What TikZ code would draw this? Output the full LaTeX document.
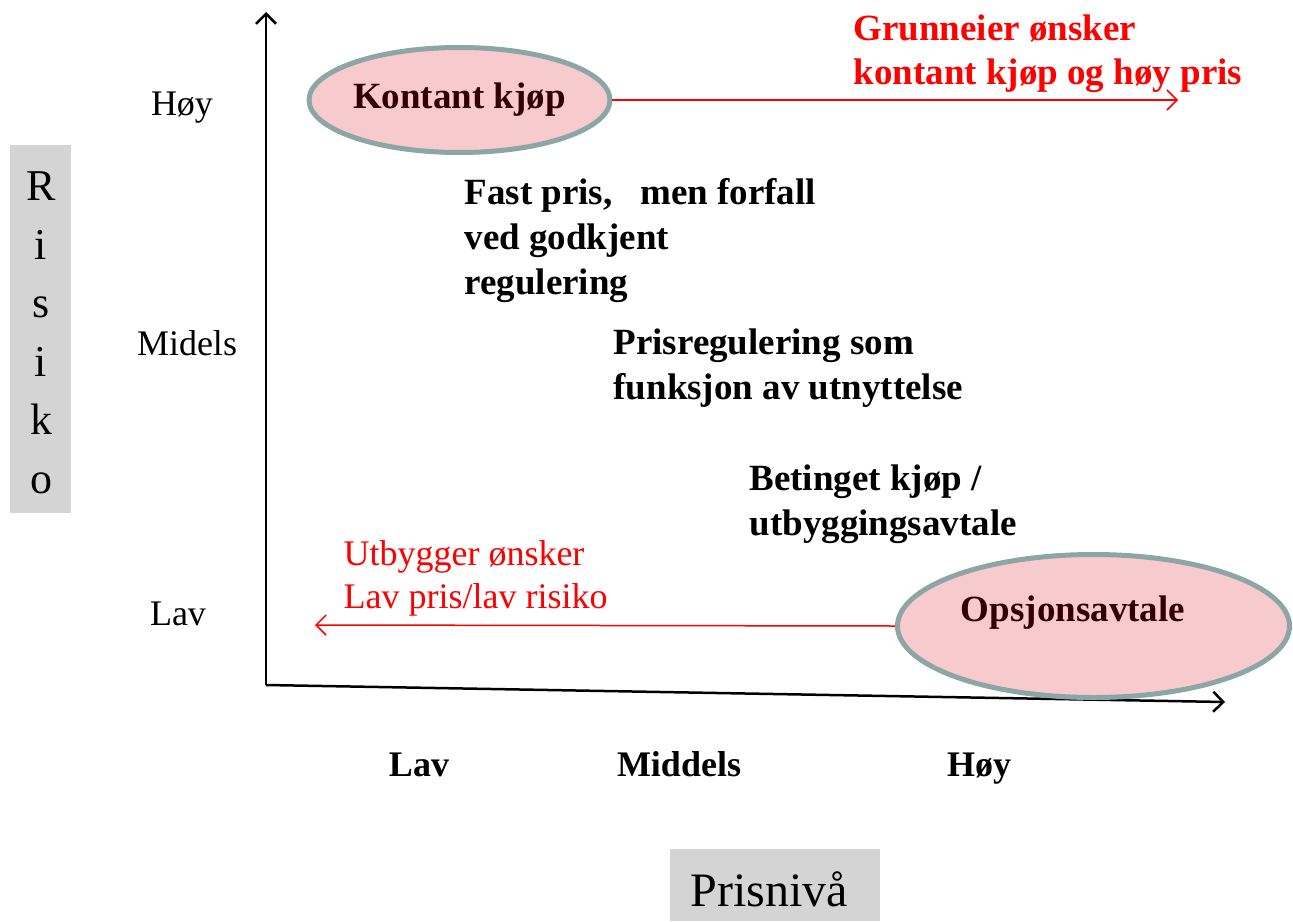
\documentclass[tikz,border=0pt]{standalone}
\usepackage{fontspec}
\setmainfont{Liberation Serif}[BoldFont={Liberation Serif Bold},ItalicFont={Liberation Serif Italic}]
\usetikzlibrary{shapes.geometric,arrows.meta}
\definecolor{ellfill}{RGB}{247,202,206}
\definecolor{ellline}{RGB}{140,165,165}
\definecolor{elltext}{RGB}{50,0,0}
\definecolor{boxgray}{RGB}{212,212,212}
\tikzset{
  axis/.style={line width=2.5pt,-{Straight Barb[length=10pt,width=20pt,line width=2.5pt]}},
  redarrow/.style={red,line width=1.5pt,-{Straight Barb[length=10pt,width=20pt,line width=1.5pt]}},
  bubble/.style={ellipse,draw=ellline,fill=ellfill,line width=5pt,inner sep=0pt},
  bubtext/.style={text=elltext,font=\fontsize{37}{45}\selectfont\bfseries},
  boldtxt/.style={align=left,anchor=west,font=\fontsize{37}{45}\selectfont\bfseries},
  regtxt/.style={anchor=base,font=\fontsize{36}{43}\selectfont},
  xlab/.style={anchor=base,font=\fontsize{36}{45}\selectfont\bfseries},
  redbold/.style={align=left,anchor=west,text=red,font=\fontsize{37}{44}\selectfont\bfseries},
  redreg/.style={align=left,anchor=west,text=red,font=\fontsize{36}{43}\selectfont},
  graybox/.style={fill=boxgray,inner sep=0pt}
}
\begin{document}
\begin{tikzpicture}[x=1pt,y=-1pt]
\useasboundingbox (0,0) rectangle (1293,921);
% axes
\coordinate (O) at (266,685);
\coordinate (Ytop) at (266,12);
\coordinate (Xend) at (1225,702);
\draw[axis] (O) -- (Ytop);
\draw[axis] (O) -- (Xend);
% ellipses
\node[bubble,minimum width=300pt,minimum height=105pt,bubtext] (kontant) at (459.5,100) {Kontant kjøp};
\node[bubble,minimum width=392pt,minimum height=143pt] (opsjon) at (1093.5,626) {};
\node[bubtext] (opstext) at (1073,613) {Opsjonsavtale};
% red arrows
\coordinate (rEnd) at (1178,100);
\coordinate (lEnd) at (315,625);
\draw[redarrow] (kontant.east) -- (rEnd);
\draw[redarrow] (opsjon.west) -- (lEnd);
% red texts
\node[redbold] (grunn) at (850,54) {Grunneier ønsker\\kontant kjøp og høy pris};
\node[redreg] (utbygg) at (340,578) {Utbygger ønsker\\Lav pris/lav risiko};
% black bold texts
\node[boldtxt] (fast) at (461,241) {Fast pris,~~ men forfall\\ved godkjent\\regulering};
\node[boldtxt] (prisreg) at (610,368) {Prisregulering som\\funksjon av utnyttelse};
\node[boldtxt] (betinget) at (746,504) {Betinget kjøp /\\utbyggingsavtale};
% y-axis labels
\node[regtxt] (yh) at (182,115) {Høy};
\node[regtxt] (ym) at (187,355) {Midels};
\node[regtxt] (yl) at (178,625) {Lav};
% x-axis labels
\node[xlab] (xl) at (419,776) {Lav};
\node[xlab] (xm) at (679,776) {Middels};
\node[xlab] (xh) at (979,776) {Høy};
% axis titles
\node[graybox,minimum width=61pt,minimum height=368pt] (risbox) at (40.5,329) {};
\node[align=center,font=\fontsize{44}{58.5}\selectfont] (risiko) at (41,333) {R\\i\\s\\i\\k\\o};
\node[graybox,minimum width=210pt,minimum height=72pt] (prisbox) at (775,885) {};
\node[font=\fontsize{48}{56}\selectfont] (prisniva) at (769,889) {Prisnivå};
\end{tikzpicture}
\end{document}
